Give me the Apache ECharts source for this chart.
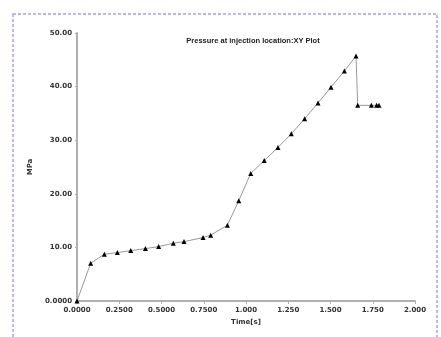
<!DOCTYPE html>
<html><head><meta charset="utf-8">
<script src="https://cdn.jsdelivr.net/npm/echarts@6/dist/echarts.min.js"></script>
<style>html,body{margin:0;padding:0;background:#fff}#c{width:441px;height:337px}</style>
</head><body><div id="c"></div>
<script>
var times = [0, 0.081, 0.162, 0.239, 0.318, 0.405, 0.483, 0.570, 0.633, 0.746, 0.791, 0.890, 0.957, 1.028, 1.108, 1.189, 1.268, 1.347, 1.426, 1.503, 1.582, 1.651, 1.661, 1.742, 1.773, 1.787];
var pressure = [0, 7.05, 8.73, 9.03, 9.4, 9.78, 10.15, 10.78, 11.08, 11.83, 12.28, 14.15, 18.7, 23.8, 26.2, 28.65, 31.2, 34.0, 36.95, 39.9, 42.9, 45.7, 36.5, 36.5, 36.5, 36.5];
var title = 'Pressure at injection location:XY Plot';
var xName = 'Time[s]';
var yName = 'MPa';

var pts = times.map(function(t, i){ return [t, pressure[i]]; });
var chart = echarts.init(document.getElementById('c'));
var lblFont = {fontSize: 7, fontWeight: 'bold', color: '#333', fontFamily: 'DejaVu Sans'};
chart.setOption({
  animation: false,
  backgroundColor: '#fff',
  title: {text: title, left: 248, top: 32, textAlign: 'center',
    textStyle: {fontSize: 7.5, fontWeight: 'bold', color: '#222', fontFamily: 'Liberation Sans'}},
  graphic: [{type: 'rect', shape: {x: 13, y: 14, width: 424, height: 340},
    style: {fill: 'none', stroke: '#a4a4f0', lineWidth: 1.5, lineDash: [3, 2]}}],
  grid: {left: 77, right: 26, top: 33, bottom: 36},
  xAxis: {type: 'value', min: 0, max: 2, interval: 0.25,
    name: xName, nameLocation: 'middle', nameGap: 17,
    nameTextStyle: lblFont,
    axisLine: {lineStyle: {color: '#b0b0b0', width: 2}},
    axisTick: {show: true, length: 3, lineStyle: {color: '#b0b0b0'}},
    splitLine: {show: false},
    axisLabel: Object.assign({margin: 6, formatter: function(v){
      if (v === 0) return '0.0000';
      return v < 1 ? v.toFixed(4) : v.toFixed(3);
    }}, lblFont)},
  yAxis: {type: 'value', min: 0, max: 50, interval: 10,
    name: yName, nameLocation: 'middle', nameGap: 40, nameRotate: 90,
    nameTextStyle: lblFont,
    axisLine: {show: true, lineStyle: {color: '#b0b0b0', width: 2}},
    axisTick: {show: true, length: 2, lineStyle: {color: '#b0b0b0'}},
    splitLine: {show: false},
    axisLabel: Object.assign({margin: 5, formatter: function(v){
      return v === 0 ? '0.0000' : v.toFixed(2);
    }}, lblFont)},
  series: [{type: 'line', data: pts, symbol: 'triangle', symbolSize: 5,
    lineStyle: {color: '#999', width: 1},
    itemStyle: {color: '#000'}}]
});
</script></body></html>
